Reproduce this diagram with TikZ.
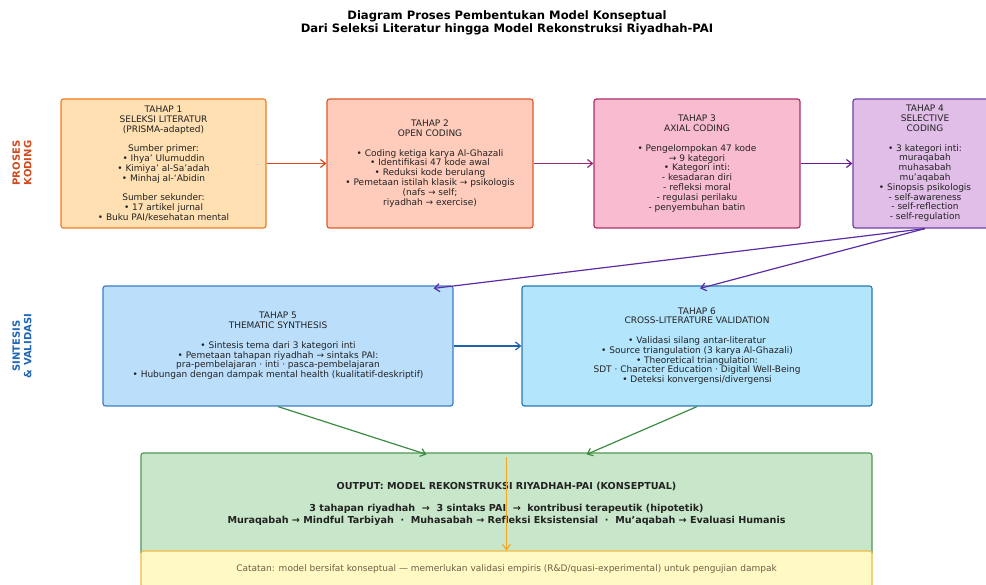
\documentclass[tikz,border=0pt]{standalone}
\usepackage{fontspec}
\setmainfont{DejaVu Sans}
\usetikzlibrary{arrows.meta,calc}

\definecolor{textgray}{HTML}{222222}
\definecolor{fillA}{HTML}{FFE0B2}\definecolor{lineA}{HTML}{EF7C22}
\definecolor{fillB}{HTML}{FFCCBC}\definecolor{lineB}{HTML}{DD5A2B}
\definecolor{fillC}{HTML}{F8BBD0}\definecolor{lineC}{HTML}{AD2F6D}
\definecolor{fillD}{HTML}{E1BEE7}\definecolor{lineD}{HTML}{7040A8}
\definecolor{fillE}{HTML}{BBDEFB}\definecolor{lineE}{HTML}{3D7CC9}
\definecolor{fillF}{HTML}{B3E5FC}\definecolor{lineF}{HTML}{2A7AB5}
\definecolor{fillG}{HTML}{C8E6C9}\definecolor{lineG}{HTML}{4E9A51}
\definecolor{fillH}{HTML}{FFF9C4}\definecolor{lineH}{HTML}{F5B942}
\definecolor{arrAB}{HTML}{D84A1B}
\definecolor{arrBC}{HTML}{9B2770}
\definecolor{arrCD}{HTML}{6A1B9A}
\definecolor{arrD}{HTML}{5A2DA5}
\definecolor{arrEF}{HTML}{1E64AA}
\definecolor{arrG}{HTML}{3D8B40}
\definecolor{arrH}{HTML}{F5A623}
\definecolor{sideA}{HTML}{D04A1F}
\definecolor{sideB}{HTML}{1F67B4}
\definecolor{notegray}{HTML}{6D6048}

\begin{document}
\begin{tikzpicture}[x=1pt,y=-1pt,>={Straight Barb[length=5pt,width=8pt]},line width=1.2pt,
	tahap/.style={draw,rounded corners=2.5pt,align=center,inner sep=0pt,text=textgray,
		font=\fontsize{9}{9.8}\selectfont},
	side/.style={rotate=90,align=center,font=\fontsize{10}{11.5}\selectfont\bfseries}]

\useasboundingbox (0,0) rectangle (986,585);
\clip (0,0) rectangle (986,585);

\def\gap{\\[9.8pt]}

\node[align=center,font=\fontsize{11.6}{13}\selectfont\bfseries] (judul) at (507,22.5)
	{Diagram Proses Pembentukan Model Konseptual\\Dari Seleksi Literatur hingga Model Rekonstruksi Riyadhah-PAI};

\node[side,text=sideA] (proses) at (22,163) {PROSES\\KODING};
\node[side,text=sideB] (sintesis) at (22,346) {SINTESIS\\\& VALIDASI};

\node[tahap,fill=fillA,draw=lineA,minimum width=205,minimum height=129] (tahap1) at (163.5,163.5)
	{TAHAP 1\\SELEKSI LITERATUR\\(PRISMA-adapted)\gap
	Sumber primer:\\• Ihya’ Ulumuddin\\• Kimiya’ al-Sa’adah\\• Minhaj al-‘Abidin\gap
	Sumber sekunder:\\• 17 artikel jurnal\\• Buku PAI/kesehatan mental};
\node[tahap,fill=fillB,draw=lineB,minimum width=206,minimum height=129] (tahap2) at (430,163.5)
	{TAHAP 2\\OPEN CODING\gap
	• Coding ketiga karya Al-Ghazali\\• Identifikasi 47 kode awal\\• Reduksi kode berulang\\
	• Pemetaan istilah klasik → psikologis\\(nafs → self;\\riyadhah → exercise)};
\node[tahap,fill=fillC,draw=lineC,minimum width=206,minimum height=129] (tahap3) at (697,163.5)
	{TAHAP 3\\AXIAL CODING\gap
	• Pengelompokan 47 kode\\→ 9 kategori\\• Kategori inti:\\- kesadaran diri\\- refleksi moral\\
	- regulasi perilaku\\- penyembuhan batin};
\node[tahap,fill=fillD,draw=lineD,minimum width=144,minimum height=129] (tahap4) at (925,163.5)
	{TAHAP 4\\SELECTIVE\\CODING\gap
	• 3 kategori inti:\\muraqabah\\muhasabah\\mu’aqabah\\• Sinopsis psikologis\\
	- self-awareness\\- self-reflection\\- self-regulation};

\node[tahap,fill=fillE,draw=lineE,minimum width=350,minimum height=120] (tahap5) at (278,346)
	{TAHAP 5\\THEMATIC SYNTHESIS\gap
	• Sintesis tema dari 3 kategori inti\\• Pemetaan tahapan riyadhah → sintaks PAI:\\
	pra-pembelajaran · inti · pasca-pembelajaran\\
	• Hubungan dengan dampak mental health (kualitatif-deskriptif)};
\node[tahap,fill=fillF,draw=lineF,minimum width=350,minimum height=120] (tahap6) at (697,346)
	{TAHAP 6\\CROSS-LITERATURE VALIDATION\gap
	• Validasi silang antar-literatur\\• Source triangulation (3 karya Al-Ghazali)\\
	• Theoretical triangulation:\\SDT · Character Education · Digital Well-Being\\
	• Deteksi konvergensi/divergensi};

\node[tahap,fill=fillG,draw=lineG,minimum width=731,minimum height=102,
	font=\fontsize{9.6}{12}\selectfont\bfseries] (output) at (506.5,504)
	{OUTPUT: MODEL REKONSTRUKSI RIYADHAH-PAI (KONSEPTUAL)\\[10pt]
	3 tahapan riyadhah \ → \ 3 sintaks PAI \ → \ kontribusi terapeutik (hipotetik)\\
	Muraqabah → Mindful Tarbiyah \ · \ Muhasabah → Refleksi Eksistensial \ · \ Mu’aqabah → Evaluasi Humanis};
\node[tahap,fill=fillH,draw=lineH,minimum width=731,minimum height=36,text=notegray,
	font=\fontsize{9}{10}\selectfont] (catatan) at (506.5,569)
	{Catatan: model bersifat konseptual — memerlukan validasi empiris (R\&D/quasi-experimental) untuk pengujian dampak};

\foreach \a/\b/\c in {1/2/arrAB,2/3/arrBC,3/4/arrCD}{
	\draw[->,color=\c] (tahap\a.east) -- (tahap\b.west);
}
\draw[->,color=arrD] (tahap4.south) -- ($(tahap5.north east)+(-20,3)$);
\draw[->,color=arrD] (tahap4.south) -- ($(tahap6.north)+(3,3)$);
\draw[->,color=arrEF] (tahap5.east) -- (tahap6.west);
\draw[->,color=arrG] (tahap5.south) -- ($(output.north)+(-80,2)$);
\draw[->,color=arrG] (tahap6.south) -- ($(output.north)+(80,2)$);
\draw[->,color=arrH] ($(output.north)+(0,5)$) -- (catatan.north);

\end{tikzpicture}
\end{document}
